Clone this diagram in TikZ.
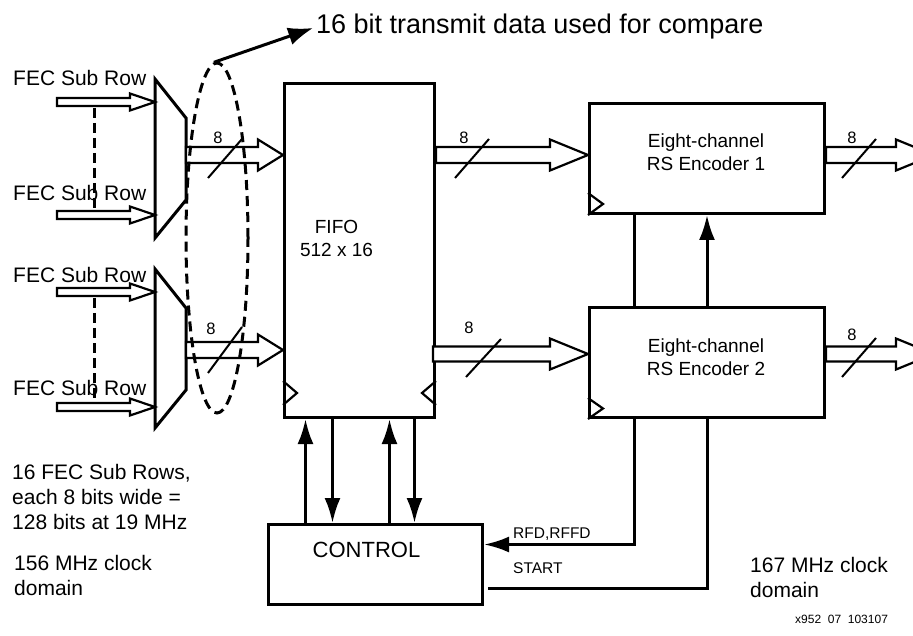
\documentclass[tikz,border=0pt]{standalone}
\usepackage{fontspec}
\setmainfont{Liberation Sans}
\usetikzlibrary{calc}
\usetikzlibrary{arrows.meta}
\usetikzlibrary{shapes.geometric}

% hollow (outlined) bus arrow: start, tip, half shaft, half head, head length
\newcommand{\hollowbus}[5]{%
  \draw[busline] ($(#1)+(0,-#3)$) -- ($(#2)+(-#5,-#3)$) -- ($(#2)+(-#5,-#4)$) -- (#2)
    -- ($(#2)+(-#5,#4)$) -- ($(#2)+(-#5,#3)$) -- ($(#1)+(0,#3)$) -- cycle;}

\begin{document}
\begin{tikzpicture}[x=1pt, y=-1pt,
    every node/.style={font=\fontsize{21}{25}\selectfont, inner sep=0pt},
    blockbox/.style={draw, line width=3pt, anchor=north west},
    blocktext/.style={font=\fontsize{19}{23}\selectfont, align=center},
    wire/.style={line width=3pt},
    busline/.style={line width=2.2pt, fill=white, line join=miter},
    slash/.style={line width=2pt},
    clk/.style={line width=2.2pt},
    tip/.style={-{Latex[length=25pt,width=16pt]}},
    small/.style={font=\fontsize{15.5}{18}\selectfont},
    width/.style={font=\fontsize{16.5}{18}\selectfont},
    dashline/.style={line width=3pt, dash pattern=on 10pt off 6pt}]

\clip (0,0) rectangle (913,636);

% --- blocks ---
\node[blockbox, minimum width=150, minimum height=334] (fifo) at (283,82) {};
\node[blocktext] (fifotxt) at ($(fifo.center)+(-23,-12)$) {FIFO\\512 x 16};

\node[blockbox, minimum width=235, minimum height=110] (enc1) at (588,102) {};
\node[blocktext] (enc1txt) at ($(enc1.center)+(-1,-6)$) {Eight-channel\\RS Encoder 1};
\node[blockbox, minimum width=235, minimum height=110] (enc2) at (588,306) {};
\node[blocktext] (enc2txt) at ($(enc2.center)+(-1,-5)$) {Eight-channel\\RS Encoder 2};

\node[blockbox, minimum width=214, minimum height=80] (ctrl) at (267,523) {};
\node[font=\fontsize{22}{26}\selectfont] (ctrltxt) at ($(ctrl.center)+(-9,-15)$) {CONTROL};

% clock marks
\draw[clk] ([yshift=38]fifo.south west) -- ++(14,12) -- ++(-14,12);
\draw[clk] ([yshift=38]fifo.south east) -- ++(-14,12) -- ++(14,12);
\draw[clk] ([yshift=22]enc1.south west) -- ++(15,11) -- ++(-15,11);
\draw[clk] ([yshift=21]enc2.south west) -- ++(15,10.5) -- ++(-15,10.5);

% --- multiplexers ---
\draw[wire] (155,79) -- (186,118) -- (186,200) -- (155,238) -- cycle;
\draw[wire] (155,269) -- (186,308) -- (186,390) -- (155,428) -- cycle;

% inputs
\coordinate (in1) at (57,102);  \coordinate (in1t) at (155,102);
\coordinate (in2) at (57,215);  \coordinate (in2t) at (155,215);
\coordinate (in3) at (57,292);  \coordinate (in3t) at (155,292);
\coordinate (in4) at (57,407);  \coordinate (in4t) at (155,407);
\hollowbus{in1}{in1t}{4}{8.5}{25}
\hollowbus{in2}{in2t}{4}{8.5}{25}
\hollowbus{in3}{in3t}{4}{8.5}{25}
\hollowbus{in4}{in4t}{4}{8.5}{25}

\draw[wire, dash pattern=on 10pt off 5pt] (94,108) -- (94,208);
\draw[wire, dash pattern=on 10pt off 5pt] (94,298) -- (94,398);

\node[anchor=west] (row1) at (13,78) {FEC Sub Row};
\node[anchor=west] (row2) at (13,193) {FEC Sub Row};
\node[anchor=west] (row3) at (13,275) {FEC Sub Row};
\node[anchor=west] (row4) at (13,388) {FEC Sub Row};

% --- 8 bit buses ---
\coordinate (m1o) at (186,155);  \coordinate (f1i) at (fifo.west |- m1o);
\coordinate (m2o) at (186,350);  \coordinate (f2i) at (fifo.west |- m2o);
\coordinate (f1o) at (fifo.east |- m1o);  \coordinate (e1i) at (enc1.west |- m1o);
\coordinate (f2o) at (433,354);  \coordinate (e2i) at (enc2.west |- f2o);
\coordinate (e1o) at (enc1.east |- m1o);  \coordinate (e1t) at (934,155);
\coordinate (e2o) at (enc2.east |- f2o);  \coordinate (e2t) at (934,354);
\hollowbus{m1o}{f1i}{8}{15.5}{25}
\hollowbus{m2o}{f2i}{8}{15.5}{25}
\hollowbus{f1o}{e1i}{8}{15.5}{38}
\hollowbus{f2o}{e2i}{7.5}{15.5}{38}
\hollowbus{e1o}{e1t}{8}{15.5}{38}
\hollowbus{e2o}{e2t}{7.5}{15.5}{38}

% compare group
\node[ellipse, draw, dashline, minimum width=62, minimum height=350] (cmp) at (217,238) {};
\node[anchor=west, font=\fontsize{27}{32}\selectfont] (title) at (316,27) {16 bit transmit data used for compare};
\draw[wire, -{Latex[length=25pt,width=18pt]}, shorten >=3pt] (cmp.91) -- (title.west);

% width marks
\draw[slash] (208,178) -- ++(34,-39);
\draw[slash] (208,373) -- ++(34,-46);
\draw[slash] (455,178) -- ++(34,-39);
\draw[slash] (466,377) -- ++(35,-38);
\draw[slash] (842,178) -- ++(34,-39);
\draw[slash] (842,377) -- ++(34,-39);
\node[width] (w1) at (218,138) {8};
\node[width] (w2) at (211,329) {8};
\node[width] (w3) at (464,138) {8};
\node[width] (w4) at (469,328) {8};
\node[width] (w5) at (852,138) {8};
\node[width] (w6) at (852,335) {8};

% --- control connections ---
\coordinate (u1) at ($(fifo.south)+(-54,0)$);
\coordinate (d1) at ($(fifo.south)+(-27,0)$);
\coordinate (u2) at ($(fifo.south)+(30,0)$);
\coordinate (d2) at ($(fifo.south)+(55,0)$);
\draw[wire, tip] (u1 |- ctrl.north) -- (u1);
\draw[wire, tip] (d1) -- (d1 |- ctrl.north);
\draw[wire, tip] (u2 |- ctrl.north) -- (u2);
\draw[wire, tip] (d2) -- (d2 |- ctrl.north);

\coordinate (ea) at ($(enc1.south)+(-73,0)$);
\draw[wire] (ea) -- (ea |- enc2.north);
\draw[wire, tip] (enc2.north) -- (enc1.south);
\draw[wire, tip] (ea |- enc2.south) |- ($(ctrl.east)+(0,-20)$);
\draw[wire] (enc2.south) |- ($(ctrl.east)+(4,24)$);
\node[small, anchor=west] (rfd) at (513,534) {RFD,RFFD};
\node[small, anchor=west] (start) at (513,568) {START};

% --- notes ---
\node[anchor=north west, align=left] (note) at (12,464) {16 FEC Sub Rows,\\each 8 bits wide =\\128 bits at 19 MHz};
\node[anchor=north west, align=left] (clka) at (14,555) {156 MHz clock\\domain};
\node[anchor=north west, align=left] (clkb) at (750,557) {167 MHz clock\\domain};
\node[anchor=west, font=\fontsize{12}{14}\selectfont] (fig) at (795,619) {x952\ \ 07\ \ 103107};

\end{tikzpicture}
\end{document}
